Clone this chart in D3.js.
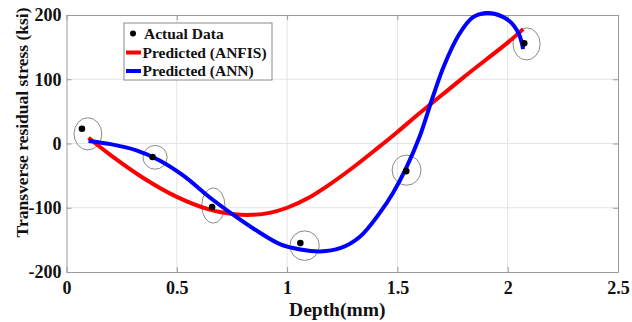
<!DOCTYPE html>
<html>
<head>
<meta charset="utf-8">
<script src="https://cdn.jsdelivr.net/npm/d3@7"></script>
<style>
    html, body { margin: 0; padding: 0; background: #fff; }
    text { font-family: "Liberation Serif", "Times New Roman", serif; font-weight: bold; fill: #111; }
</style>
</head>
<body>
<div id="chart"></div>
<script>

// measured points (depth mm, stress ksi)
let actualDepth  = [0.07, 0.39, 0.66, 1.06, 1.54, 2.075];
let actualStress = [23, -21, -99, -155, -43, 156];

// rough ellipses drawn round each measured point: [x0, x1] and [y0, y1] in data units
let ringX = [[0.034, 0.160], [0.347, 0.456], [0.613, 0.718], [1.013, 1.146], [1.476, 1.607], [2.024, 2.147]];
let ringY = [[-10, 40], [-40, -3], [-124, -69], [-182, -136], [-65, -18], [130, 180]];

// ANFIS prediction
let anfisDepth  = [0.10, 0.20, 0.35, 0.50, 0.65, 0.76, 0.84, 0.92, 1.00, 1.10, 1.20, 1.30, 1.40, 1.50, 1.60, 1.70, 1.80, 1.90, 2.00, 2.07];
let anfisStress = [9, -18, -54, -83, -103, -110, -111, -108, -100, -84, -62, -37, -10, 18, 47, 75, 103, 130, 157, 178];

// ANN prediction
let annDepth  = [0.10, 0.20, 0.32, 0.42, 0.53, 0.65, 0.76, 0.85, 0.97, 1.06, 1.15, 1.24, 1.33, 1.42, 1.48, 1.54, 1.60, 1.66, 1.71, 1.78, 1.84, 1.90, 1.94, 2.01, 2.05, 2.07];
let annStress = [4, -1, -11, -26, -50, -84, -112, -133, -157, -165, -168, -163, -145, -108, -77, -38, 10, 72, 120, 170, 196, 203, 202, 190, 171, 147];

let xTicks = [0, 0.5, 1, 1.5, 2, 2.5];
let yTicks = [-200, -100, 0, 100, 200];
let legendLabels = ["Actual Data", "Predicted (ANFIS)", "Predicted (ANN)"];

let width = 632, height = 322;
let margin = {top: 15, right: 14, bottom: 50, left: 66.5};

let svg = d3.select("#chart").append("svg")
    .attr("width", width)
    .attr("height", height);

let x = d3.scaleLinear().domain([0, 2.5]).range([margin.left, width - margin.right]);
let y = d3.scaleLinear().domain([-200, 200]).range([height - margin.bottom, margin.top]);

// grid
svg.append("g").selectAll("line.gx")
    .data(xTicks.slice(1, -1))
    .enter().append("line")
    .attr("x1", d => x(d)).attr("x2", d => x(d))
    .attr("y1", y(-200)).attr("y2", y(200))
    .attr("stroke", "#e3e3e3").attr("stroke-width", 1);

svg.append("g").selectAll("line.gy")
    .data(yTicks.slice(1, -1))
    .enter().append("line")
    .attr("x1", x(0)).attr("x2", x(2.5))
    .attr("y1", d => y(d)).attr("y2", d => y(d))
    .attr("stroke", "#e3e3e3").attr("stroke-width", 1);

// axes with inward ticks, matlab style box
let axisColor = "#9a9a9a";
function styleAxis(g) {
    g.select(".domain").attr("stroke", axisColor);
    g.selectAll(".tick line").attr("stroke", axisColor);
    g.selectAll(".tick text").attr("font-size", "18px").attr("fill", "#111");
}

svg.append("g")
    .attr("transform", "translate(0," + y(-200) + ")")
    .call(d3.axisBottom(x).tickValues(xTicks).tickSizeInner(-5).tickSizeOuter(0).tickPadding(9)
        .tickFormat(d3.format("")))
    .call(styleAxis);

svg.append("g")
    .attr("transform", "translate(0," + y(200) + ")")
    .call(d3.axisTop(x).tickValues(xTicks).tickSizeInner(-5).tickSizeOuter(0).tickFormat(""))
    .call(styleAxis);

svg.append("g")
    .attr("transform", "translate(" + x(0) + ",0)")
    .call(d3.axisLeft(y).tickValues(yTicks).tickSizeInner(-5).tickSizeOuter(0).tickPadding(5)
        .tickFormat(d3.format("d")))
    .call(styleAxis);

svg.append("g")
    .attr("transform", "translate(" + x(2.5) + ",0)")
    .call(d3.axisRight(y).tickValues(yTicks).tickSizeInner(-5).tickSizeOuter(0).tickFormat(""))
    .call(styleAxis);

// minus sign as plain hyphen like the original
svg.selectAll(".tick text").text(function () { return d3.select(this).text().replace("\u2212", "-"); });

// axis titles
svg.append("text")
    .attr("x", (x(0) + x(2.5)) / 2 - 5)
    .attr("y", 316)
    .attr("text-anchor", "middle")
    .attr("font-size", "19.5px")
    .text("Depth(mm)");

svg.append("text")
    .attr("transform", "translate(28," + ((y(-200) + y(200)) / 2 - 21) + ") rotate(-90)")
    .attr("text-anchor", "middle")
    .attr("font-size", "17.5px")
    .text("Transverse residual stress (ksi)");

// ellipses round the points
let rings = actualDepth.map((d, i) => ({xr: ringX[i], yr: ringY[i]}));
svg.append("g").selectAll("ellipse")
    .data(rings)
    .enter().append("ellipse")
    .attr("cx", d => (x(d.xr[0]) + x(d.xr[1])) / 2)
    .attr("cy", d => (y(d.yr[0]) + y(d.yr[1])) / 2)
    .attr("rx", d => (x(d.xr[1]) - x(d.xr[0])) / 2)
    .attr("ry", d => (y(d.yr[0]) - y(d.yr[1])) / 2)
    .attr("fill", "none")
    .attr("stroke", "#8a8a8a")
    .attr("stroke-width", 1);

// prediction curves
let line = d3.line()
    .x(d => x(d[0]))
    .y(d => y(d[1]))
    .curve(d3.curveCatmullRom.alpha(0.5));

svg.append("path")
    .datum(anfisDepth.map((d, i) => [d, anfisStress[i]]))
    .attr("d", line)
    .attr("fill", "none")
    .attr("stroke", "#ff0000")
    .attr("stroke-width", 4);

svg.append("path")
    .datum(annDepth.map((d, i) => [d, annStress[i]]))
    .attr("d", line)
    .attr("fill", "none")
    .attr("stroke", "#0000ff")
    .attr("stroke-width", 4);

// actual data dots
svg.append("g").selectAll("circle")
    .data(actualDepth.map((d, i) => [d, actualStress[i]]))
    .enter().append("circle")
    .attr("cx", d => x(d[0]))
    .attr("cy", d => y(d[1]))
    .attr("r", 3.3)
    .attr("fill", "#000");

// legend
let legend = svg.append("g").attr("transform", "translate(124,23)");
legend.append("rect")
    .attr("width", 148).attr("height", 57)
    .attr("fill", "#fff")
    .attr("stroke", "#8a8a8a").attr("stroke-width", 1);

let rowY = [10.5, 29.5, 48];
legend.append("circle").attr("cx", 9).attr("cy", rowY[0]).attr("r", 3).attr("fill", "#000");
legend.append("line").attr("x1", 2).attr("x2", 17).attr("y1", rowY[1]).attr("y2", rowY[1])
    .attr("stroke", "#ff0000").attr("stroke-width", 4);
legend.append("line").attr("x1", 2).attr("x2", 17).attr("y1", rowY[2]).attr("y2", rowY[2])
    .attr("stroke", "#0000ff").attr("stroke-width", 4);

legend.selectAll("text.lab")
    .data(legendLabels)
    .enter().append("text")
    .attr("x", (d, i) => i === 0 ? 20 : 18.5)
    .attr("y", (d, i) => rowY[i] + 5)
    .attr("font-size", "15.5px")
    .text(d => d);

</script>
</body>
</html>
